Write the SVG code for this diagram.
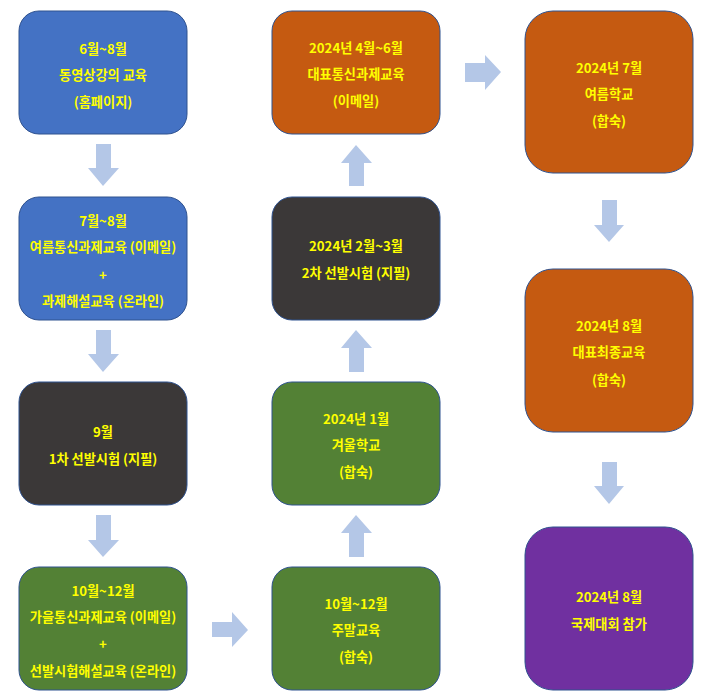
<svg xmlns="http://www.w3.org/2000/svg" width="707" height="699" viewBox="0 0 707 699">
<style>
.box{stroke:#2F528F;stroke-width:1}
.blue{fill:#4472C4}.dark{fill:#3B3838}.orange{fill:#C55A11}.green{fill:#538135}.purple{fill:#7030A0}
.arr{fill:#B4C7E7}
text{font-family:"Noto Sans CJK KR","Noto Sans",sans-serif;font-weight:bold;font-size:13.2px;fill:#FFFF00;text-anchor:middle}
</style>
<rect width="707" height="699" fill="#FFFFFF"/>
<g id="connectors">
<polygon class="arr" points="96,144 111,144 111,168 119,168 103,186 88,168 96,168"/>
<polygon class="arr" points="96,330 111,330 111,354 119,354 103,372 88,354 96,354"/>
<polygon class="arr" points="96,515 111,515 111,540 119,540 103,557 88,540 96,540"/>
<polygon class="arr" points="212,622 232,622 232,612 248,630 232,647 232,637 212,637"/>
<polygon class="arr" points="349,557 364,557 364,533 372,533 356,515 341,533 349,533"/>
<polygon class="arr" points="349,372 364,372 364,348 372,348 356,330 341,348 349,348"/>
<polygon class="arr" points="349,186 364,186 364,163 372,163 356,145 341,163 349,163"/>
<polygon class="arr" points="465,63 485,63 485,55 501,72 485,90 485,82 465,82"/>
<polygon class="arr" points="602,200 617,200 617,225 624,225 609,242 594,225 602,225"/>
<polygon class="arr" points="602,462 617,462 617,486 624,486 609,504 594,486 602,486"/>
</g>
<g id="n1"><rect class="box blue" x="19" y="11" width="168" height="123" rx="20"/>
<text x="103" y="54">6월~8월</text><text x="103" y="80">동영상강의 교육</text><text x="103" y="107">(홈페이지)</text></g>
<g id="n2"><rect class="box blue" x="19" y="197" width="168" height="123" rx="20"/>
<text x="103" y="226">7월~8월</text><text x="103" y="252">여름통신과제교육 (이메일)</text><text x="103" y="280">+</text><text x="103" y="306">과제해설교육 (온라인)</text></g>
<g id="n3"><rect class="box dark" x="19" y="382" width="168" height="123" rx="20"/>
<text x="103" y="437">9월</text><text x="103" y="464">1차 선발시험 (지필)</text></g>
<g id="n4"><rect class="box green" x="19" y="567" width="168" height="123" rx="20"/>
<text x="103" y="596">10월~12월</text><text x="103" y="622">가을통신과제교육 (이메일)</text><text x="103" y="649">+</text><text x="103" y="676">선발시험해설교육 (온라인)</text></g>
<g id="n5"><rect class="box green" x="272" y="567" width="168" height="123" rx="20"/>
<text x="356" y="609">10월~12월</text><text x="356" y="635">주말교육</text><text x="356" y="662">(합숙)</text></g>
<g id="n6"><rect class="box green" x="272" y="382" width="168" height="123" rx="20"/>
<text x="356" y="424">2024년 1월</text><text x="356" y="450">겨울학교</text><text x="356" y="477">(합숙)</text></g>
<g id="n7"><rect class="box dark" x="272" y="197" width="168" height="123" rx="20"/>
<text x="356" y="251">2024년 2월~3월</text><text x="356" y="278">2차 선발시험 (지필)</text></g>
<g id="n8"><rect class="box orange" x="272" y="11" width="168" height="123" rx="20"/>
<text x="356" y="53">2024년 4월~6월</text><text x="356" y="79">대표통신과제교육</text><text x="356" y="106">(이메일)</text></g>
<g id="n9"><rect class="box orange" x="525" y="11" width="168" height="162" rx="28"/>
<text x="609" y="73">2024년 7월</text><text x="609" y="99">여름학교</text><text x="609" y="126">(합숙)</text></g>
<g id="n10"><rect class="box orange" x="525" y="269" width="168" height="163" rx="28"/>
<text x="609" y="331">2024년 8월</text><text x="609" y="357">대표최종교육</text><text x="609" y="385">(합숙)</text></g>
<g id="n11"><rect class="box purple" x="525" y="527" width="168" height="163" rx="28"/>
<text x="609" y="602">2024년 8월</text><text x="609" y="629">국제대회 참가</text></g>
</svg>
